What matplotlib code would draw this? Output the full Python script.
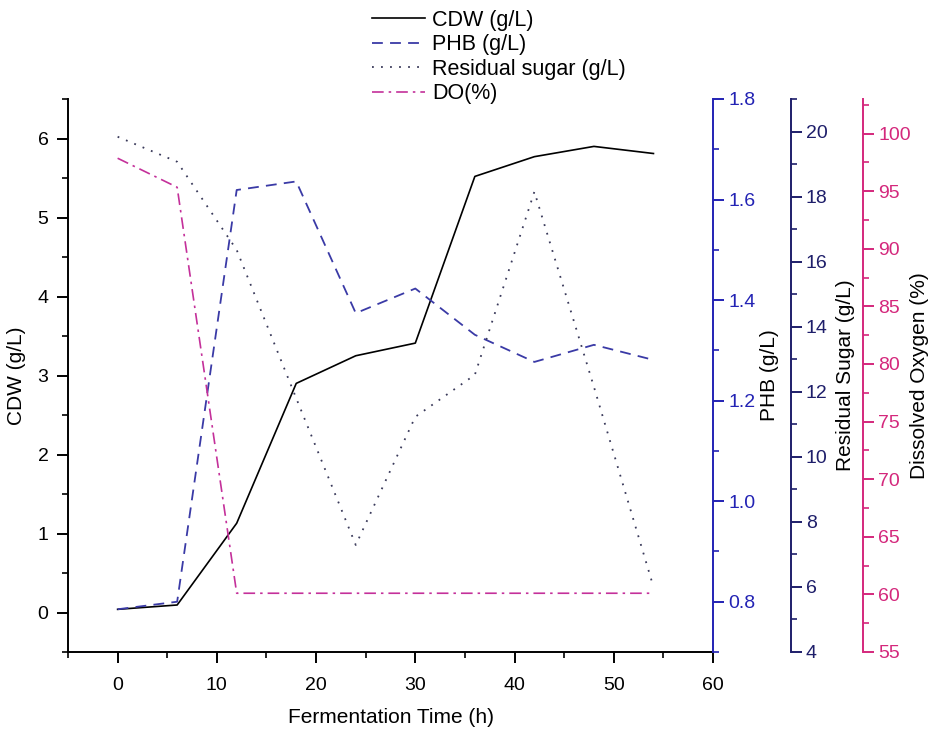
import matplotlib
matplotlib.use("Agg")
import matplotlib.pyplot as plt
from matplotlib.ticker import MultipleLocator, FormatStrFormatter

plt.rcParams['font.family'] = ['Liberation Sans', 'DejaVu Sans']

time_h = [0, 6, 12, 18, 24, 30, 36, 42, 48, 54]
cdw = [0.04, 0.095, 1.13, 2.90, 3.25, 3.41, 5.52, 5.77, 5.90, 5.81]
phb = [0.785, 0.80, 1.619, 1.636, 1.374, 1.423, 1.331, 1.277, 1.311, 1.281]
sugar = [19.84, 19.07, 16.36, 11.8, 7.29, 11.23, 12.52, 18.15, 12.15, 6.0]
do_pct = [97.86, 95.34, 60.1, 60.1, 60.1, 60.1, 60.1, 60.1, 60.1, 60.1]

c_phb_axis = '#2323b4'
c_phb_line = '#3a3aa6'
c_sugar_axis = '#1e1e6a'
c_sugar_line = '#3a3a5a'
c_do_axis = '#d4287c'
c_do_line = '#c4309a'

fig = plt.figure(figsize=(9.33, 7.38), dpi=100)
W, H = 933, 738
ax = fig.add_axes([68 / W, 1 - 652 / H, (713 - 68) / W, (652 - 99) / H])
ax2 = ax.twinx()
ax3 = ax.twinx()
ax4 = ax.twinx()

fs = 14

l1, = ax.plot(time_h, cdw, color='black', lw=1.2, ls='-', label='CDW (g/L)')
l2, = ax2.plot(time_h, phb, color=c_phb_line, lw=1.3, ls=(0, (6, 4)), label='PHB (g/L)')
l3, = ax3.plot(time_h, sugar, color=c_sugar_line, lw=1.3, ls=(0, (1, 4)), label='Residual sugar (g/L)')
l4, = ax4.plot(time_h, do_pct, color=c_do_line, lw=1.2, ls=(0, (7, 3, 1.5, 3)), label='DO(%)')

ax.set_xlim(-5, 60)
ax.set_ylim(-0.5, 6.5)
ax2.set_ylim(0.7, 1.8)
ax3.set_ylim(4, 21)
ax4.set_ylim(55, 103)

for a in (ax, ax2, ax3, ax4):
    a.spines['top'].set_visible(False)
    for s in a.spines.values():
        s.set_linewidth(1.4)

ax.spines['right'].set_visible(False)
ax3.spines['right'].set_position(('axes', 1 + 77.7 / 645))
ax4.spines['right'].set_position(('axes', 1 + 150 / 645))
for a in (ax2, ax3, ax4):
    a.spines['left'].set_visible(False)
    a.spines['bottom'].set_visible(False)

ax.xaxis.set_major_locator(MultipleLocator(10))
ax.xaxis.set_minor_locator(MultipleLocator(5))
ax.yaxis.set_major_locator(MultipleLocator(1))
ax.yaxis.set_minor_locator(MultipleLocator(0.5))
ax2.yaxis.set_major_locator(MultipleLocator(0.2))
ax2.yaxis.set_minor_locator(MultipleLocator(0.1))
ax3.yaxis.set_major_locator(MultipleLocator(2))
ax3.yaxis.set_minor_locator(MultipleLocator(1))
ax4.yaxis.set_major_locator(MultipleLocator(5))
ax4.yaxis.set_minor_locator(MultipleLocator(2.5))

ax.tick_params(axis='x', which='major', direction='out', length=8, width=1.4, labelsize=fs, pad=10)
ax.tick_params(axis='y', which='major', direction='out', length=8, width=1.4, labelsize=fs, pad=6)
ax.tick_params(axis='both', which='minor', direction='out', length=4, width=1.2)
ax2.yaxis.set_major_formatter(FormatStrFormatter('%.1f'))

for a, c in ((ax2, c_phb_axis), (ax3, c_sugar_axis), (ax4, c_do_axis)):
    a.spines['right'].set_color(c)
    a.tick_params(axis='y', which='major', direction='out', length=8, width=1.4, colors=c, labelsize=fs, pad=3)
    a.tick_params(axis='y', which='minor', direction='out', length=4, width=1.2, colors=c)

lab = fs + 1
ax.set_xlabel('Fermentation Time (h)', fontsize=lab, labelpad=10)
ax.set_ylabel('CDW (g/L)', fontsize=lab, labelpad=8)
ax2.set_ylabel('PHB (g/L)', fontsize=lab, labelpad=3)
ax3.set_ylabel('Residual Sugar (g/L)', fontsize=lab, labelpad=6)
ax4.set_ylabel('Dissolved Oxygen (%)', fontsize=lab, labelpad=-1)

fig.legend(handles=[l1, l2, l3, l4], loc='upper left', bbox_to_anchor=(372 / W, 1 - 10 / H),
           frameon=False, fontsize=15.5, handlelength=2.45, handletextpad=0.33,
           labelspacing=0.16, borderaxespad=0, borderpad=0)

fig.savefig('out.png', dpi=100, facecolor='white')
